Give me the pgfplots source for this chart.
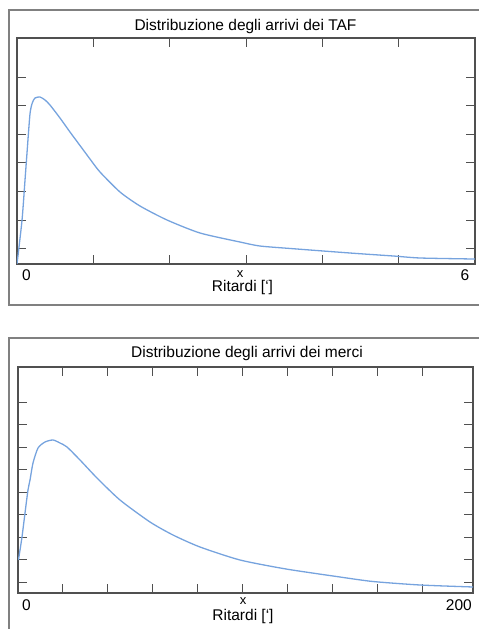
\documentclass[border=0pt]{standalone}
\usepackage{pgfplots}
\pgfplotsset{compat=1.18}
\usepackage{fontspec}
\setmainfont{Liberation Sans}
\definecolor{curveblue}{RGB}{118,163,222}
\definecolor{framegray}{RGB}{128,128,128}
\definecolor{axisgray}{RGB}{80,80,80}

\pgfplotsset{
  panel/.style={
    scale only axis, anchor=south west,
    axis line style={axisgray, line width=1.1pt},
    tick style={axisgray, line width=0.9pt},
    tick align=inside, major tick length=9pt,
    xticklabels={}, yticklabels={},
    ymin=0, ymax=226,
  }
}

\begin{document}
\begin{tikzpicture}
\clip (0,0) rectangle (479pt,629pt);
\path[use as bounding box] (0,0) rectangle (479pt,629pt);
\draw[framegray, line width=1.2pt] (9pt,{629pt-10pt}) rectangle (520pt,{629pt-305pt});
\draw[framegray, line width=1.2pt] (9pt,{629pt-338pt}) rectangle (520pt,-20pt);

% TAF
\begin{axis}[panel, at={(17pt,{629pt-264pt})}, width=458pt, height=226pt,
  xmin=0, xmax=6, xtick={1,2,3,4,5},
  ytick={16,44,73,102,130,159,187}]
\addplot[curveblue, line width=1.3pt, smooth, tension=0.4] coordinates {
 (0,0) (0.066,44) (0.105,84) (0.131,111) (0.170,150) (0.20,161) (0.236,166)
 (0.301,167) (0.367,164) (0.432,159) (0.563,146) (0.694,132) (0.825,118.5)
 (0.956,105) (1.087,92) (1.349,72) (1.611,58) (1.965,44) (2.397,31) (2.92,22) (3.18,18)
 (3.58,15.5) (4.01,13) (4.45,10.5) (4.93,8) (5.28,6) (5.97,5) (6,5)
};
\end{axis}

% merci
\begin{axis}[panel, at={(18pt,{629pt-593pt})}, width=455pt, height=226pt,
  xmin=0, xmax=202.7, xtick={20,40,...,180},
  ytick={11,34,56,79,101,124,146,169,191}]
\addplot[curveblue, line width=1.3pt, smooth, tension=0.4] coordinates {
 (0.2,33) (1.78,56) (3.12,80) (4.45,103) (5.35,113) (6.68,130) (8.91,145)
 (12.03,151) (15.59,153) (18.71,150) (21.83,146) (27.62,133) (35.19,115)
 (45.43,93) (58.8,71) (69.04,58) (81.07,46) (98.9,33) (119.4,24) (143.4,16)
 (158.1,11.5) (179.1,8) (202.7,6)
};
\end{axis}

\begin{scope}[every node/.style={font=\fontsize{15.5}{18}\selectfont, inner sep=0pt}]
\node[anchor=base] at (245.5pt,{629pt-31pt}) {Distribuzione degli arrivi dei TAF};
\node[anchor=base] at (247pt,{629pt-358pt}) {Distribuzione degli arrivi dei merci};
\node[anchor=base] at (26.5pt,{629pt-281pt}) {0};
\node[anchor=base] at (465pt,{629pt-281pt}) {6};
\node[anchor=base] at (26.5pt,{629pt-611pt}) {0};
\node[anchor=base east] at (472pt,{629pt-611pt}) {200};
\node[anchor=base] at (242.5pt,{629pt-292pt}) {Ritardi [‘]};
\node[anchor=base] at (243pt,{629pt-620pt}) {Ritardi [‘]};
\node[anchor=base, font=\fontsize{13}{15}\selectfont] at (240pt,{629pt-278pt}) {x};
\node[anchor=base, font=\fontsize{13}{15}\selectfont] at (243pt,{629pt-605pt}) {x};
\end{scope}
\end{tikzpicture}
\end{document}
